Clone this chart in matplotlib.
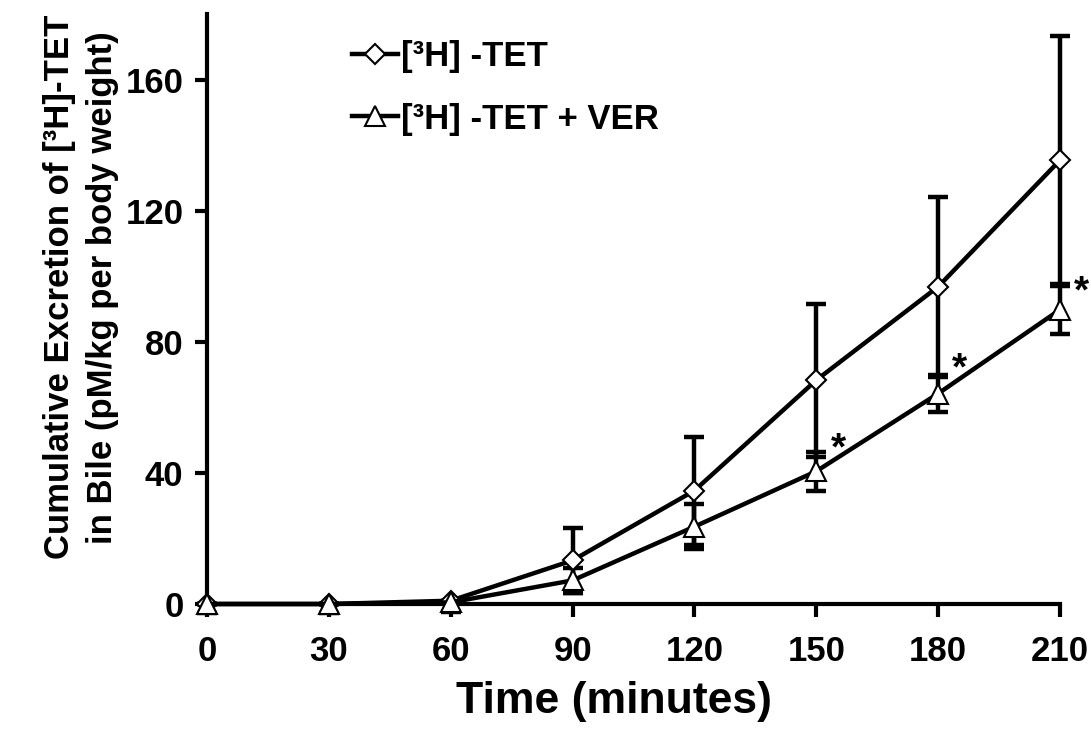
import matplotlib
matplotlib.use("Agg")
import matplotlib.pyplot as plt
from matplotlib import font_manager

times = [0, 30, 60, 90, 120, 150, 180, 210]
tet_mean = [0.0, 0.0, 1.0, 13.3, 34.6, 68.3, 96.8, 135.4]
tet_err = [0.0, 0.0, 0.0, 10.0, 16.5, 23.3, 27.5, 37.9]
ver_mean = [0.0, 0.0, 0.5, 7.2, 23.6, 40.5, 64.2, 89.8]
ver_err_low = [2.8, 2.8, 2.8, 3.9, 6.9, 6.0, 5.7, 7.3]
ver_err_high = [0.0, 0.0, 0.0, 3.9, 6.9, 6.0, 5.7, 7.3]
star_times = [150, 180, 210]
star_vals = [47.0, 71.5, 95.0]
xticks = [0, 30, 60, 90, 120, 150, 180, 210]
yticks = [0, 40, 80, 120, 160]
label_tet = "[³H] -TET"
label_ver = "[³H] -TET + VER"
xlabel = "Time (minutes)"
ylabel = "Cumulative Excretion of [³H]-TET\nin Bile (pM/kg per body weight)"

names = {f.name for f in font_manager.fontManager.ttflist}
base = "Liberation Sans" if "Liberation Sans" in names else "DejaVu Sans"
narrow = "Liberation Sans Narrow" if "Liberation Sans Narrow" in names else base
plt.rcParams["font.family"] = [base, "DejaVu Sans"]

fig = plt.figure(figsize=(10.91, 7.39), dpi=100)
ax = fig.add_axes([207/1091, 1-604/739, (1060-207)/1091, (604-14)/739])

lw = 3.2
ax.errorbar(times, tet_mean, yerr=tet_err, fmt="none", ecolor="black",
            elinewidth=lw, capsize=7, capthick=lw, clip_on=False, zorder=3)
ax.errorbar(times, ver_mean, yerr=[ver_err_low, ver_err_high], fmt="none", ecolor="black",
            elinewidth=lw, capsize=7, capthick=lw, clip_on=False, zorder=3)
ax.plot(times, tet_mean, color="black", lw=lw, marker="D", ms=10,
        mfc="white", mec="black", mew=1.5, clip_on=False, zorder=5, label=label_tet)
ax.plot(times, ver_mean, color="black", lw=lw, marker="^", ms=15,
        mfc="white", mec="black", mew=1.5, clip_on=False, zorder=5, label=label_ver)

for t, v in zip(star_times, star_vals):
    ax.text(t + 3.5, v, "*", fontsize=28, fontweight="bold", ha="left", va="center")

ax.set_xlim(0, 210)
ax.set_ylim(0, 180)
ax.set_xticks(xticks)
ax.set_yticks(yticks)
for s in ["top", "right"]:
    ax.spines[s].set_visible(False)
for s in ["left", "bottom"]:
    ax.spines[s].set_linewidth(3)
ax.tick_params(axis="both", direction="out", length=9, width=3, labelsize=25)
ax.tick_params(axis="x", pad=13)
ax.tick_params(axis="y", pad=8)
for lab in ax.get_xticklabels() + ax.get_yticklabels():
    lab.set_fontweight("bold")

ax.set_xlabel(xlabel, fontsize=32, fontweight="bold")
ax.xaxis.set_label_coords(0.477, -0.13)
ax.set_ylabel(ylabel, fontsize=25, fontweight="bold", family=[narrow, "DejaVu Sans"],
              linespacing=1.4)
ax.yaxis.set_label_coords(-0.103, 0.537)

leg = ax.legend(loc="upper left", bbox_to_anchor=(0.142, 0.997), frameon=False,
                prop={"size": 25, "weight": "bold"}, handlelength=1.3,
                handletextpad=0.1, labelspacing=0.85, borderaxespad=0.3)

fig.savefig("out.png", dpi=100)
